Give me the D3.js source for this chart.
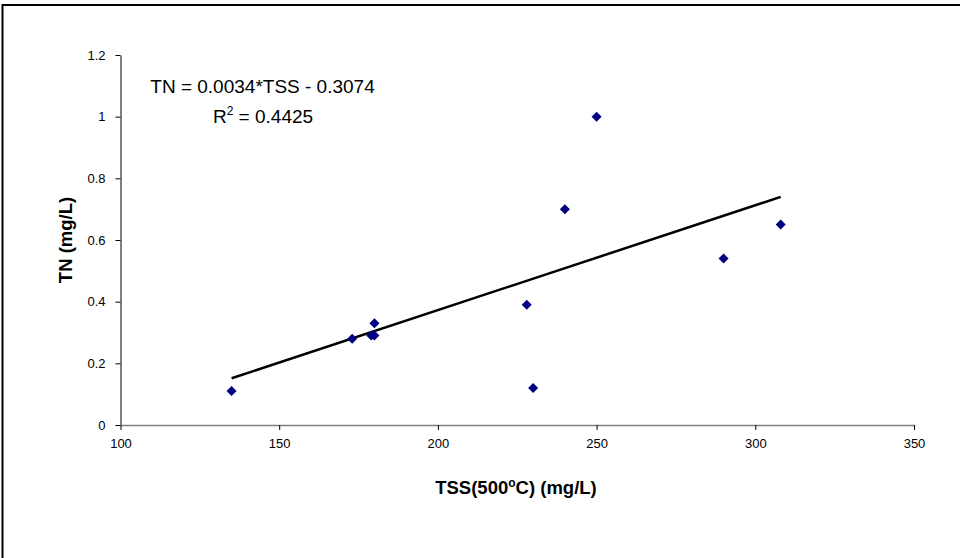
<!DOCTYPE html>
<html>
<head>
<meta charset="utf-8">
<script src="https://cdn.jsdelivr.net/npm/d3@7"></script>
<style>
  html, body { margin: 0; padding: 0; background: #fff; }
  svg { display: block; font-family: Arial, "Liberation Sans", sans-serif; }
</style>
</head>
<body>
<svg id="chart" width="960" height="558"></svg>
<script>
// Sample measurements: suspended solids (500 °C) vs total nitrogen
const tss = [135, 173, 179, 180, 180, 228, 230, 240, 250, 290, 308];
const tn  = [0.11, 0.28, 0.29, 0.29, 0.33, 0.39, 0.12, 0.70, 1.00, 0.54, 0.65];

// Linear fit reported on the chart
const slope = 0.0034;
const intercept = -0.3074;
const rSquared = 0.4425;

const xTicks = [100, 150, 200, 250, 300, 350];
const yTicks = [0, 0.2, 0.4, 0.6, 0.8, 1, 1.2];

const svg = d3.select("#chart");

// Outer frame (top and left edges visible inside the window)
svg.append("rect")
  .attr("x", 2.5).attr("y", 5)
  .attr("width", 980).attr("height", 580)
  .attr("fill", "none")
  .attr("stroke", "#000")
  .attr("stroke-width", 2);

const x = d3.scaleLinear().domain([100, 350]).range([120.5, 914]);
const y = d3.scaleLinear().domain([0, 1.2]).range([425, 55]);

// Y axis
const yAxis = svg.append("g")
  .attr("transform", "translate(120.5,0)")
  .call(d3.axisLeft(y).tickValues(yTicks).tickSize(5).tickSizeOuter(0).tickPadding(10)
    .tickFormat(d => String(d)));
yAxis.select(".domain").attr("stroke", "#000");
yAxis.selectAll(".tick line").attr("stroke", "#000");
yAxis.selectAll(".tick text").attr("font-size", 13).attr("fill", "#000")
  .attr("font-family", "Arial, 'Liberation Sans', sans-serif");

// X axis
const xAxis = svg.append("g")
  .attr("transform", "translate(0,425)")
  .call(d3.axisBottom(x).tickValues(xTicks).tickSize(5).tickSizeOuter(0).tickPadding(9)
    .tickFormat(d => String(d)));
xAxis.select(".domain").attr("stroke", "#808080").attr("stroke-width", 1.5);
xAxis.selectAll(".tick line").attr("stroke", "#000");
xAxis.selectAll(".tick text").attr("font-size", 13).attr("fill", "#000")
  .attr("font-family", "Arial, 'Liberation Sans', sans-serif");

// Trend line over the observed TSS range
const xMin = d3.min(tss), xMax = d3.max(tss);
svg.append("line")
  .attr("x1", x(xMin)).attr("y1", y(slope * xMin + intercept))
  .attr("x2", x(xMax)).attr("y2", y(slope * xMax + intercept))
  .attr("stroke", "#000")
  .attr("stroke-width", 2.5);

// Diamond markers
const diamond = d3.symbol().type(d3.symbolDiamond2).size(64);
svg.append("g").selectAll("path")
  .data(tss.map((v, i) => [v, tn[i]]))
  .join("path")
  .attr("d", diamond)
  .attr("transform", d => `translate(${x(d[0])},${y(d[1])})`)
  .attr("fill", "#000080");

// Regression equation
const eq = svg.append("g").attr("font-size", 19).attr("fill", "#000").attr("text-anchor", "middle");
eq.append("text")
  .attr("x", 262.5).attr("y", 92.5)
  .text(`TN = ${slope.toFixed(4)}*TSS - ${Math.abs(intercept).toFixed(4)}`);
const r2 = eq.append("text").attr("x", 263).attr("y", 122.5);
r2.append("tspan").text("R");
r2.append("tspan").attr("font-size", 12).attr("dy", -8).text("2");
r2.append("tspan").attr("dy", 8).text(` = ${rSquared.toFixed(4)}`);

// Axis titles
const xt = svg.append("text")
  .attr("x", 516).attr("y", 494)
  .attr("text-anchor", "middle")
  .attr("font-size", 18.5).attr("font-weight", "bold");
xt.append("tspan").text("TSS(500");
xt.append("tspan").attr("font-size", 12).attr("dy", -7).text("o");
xt.append("tspan").attr("dy", 7).text("C) (mg/L)");

svg.append("text")
  .attr("transform", "translate(72,240) rotate(-90)")
  .attr("text-anchor", "middle")
  .attr("font-size", 18.5).attr("font-weight", "bold")
  .text("TN (mg/L)");
</script>
</body>
</html>
